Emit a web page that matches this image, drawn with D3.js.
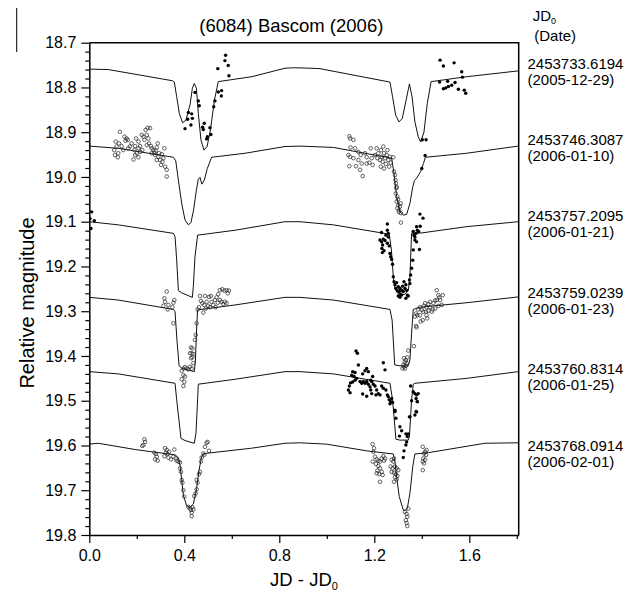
<!DOCTYPE html>
<html><head><meta charset="utf-8">
<script src="https://cdn.jsdelivr.net/npm/d3@7"></script>
<style>body{margin:0;background:#fff}svg{display:block}text{font-family:"Liberation Sans",Arial,sans-serif;fill:#000}</style>
</head><body>
<script>
// ---- data ----
const titleText = "(6084) Bascom (2006)";
const jd0Labels = ["2453733.6194","2453746.3087","2453757.2095","2453759.0239","2453760.8314","2453768.0914"];
const dateLabels = ["(2005-12-29)","(2006-01-10)","(2006-01-21)","(2006-01-23)","(2006-01-25)","(2006-02-01)"];
const xMajorTicks = [0.0,0.4,0.8,1.2,1.6];
const xMinorTicks = [0.2,0.6,1.0,1.4,1.8];
const yMajorTicks = [18.7,18.8,18.9,19.0,19.1,19.2,19.3,19.4,19.5,19.6,19.7,19.8];

const model1 = [[0,18.759],[0.08,18.76],[0.35,18.785],[0.358,18.788],[0.368,18.821],[0.379,18.858],[0.393,18.879],[0.407,18.873],[0.424,18.839],[0.434,18.802],[0.442,18.791],[0.451,18.802],[0.459,18.858],[0.47,18.917],[0.483,18.94],[0.496,18.932],[0.51,18.895],[0.527,18.828],[0.543,18.787],[0.684,18.776],[0.824,18.757],[0.86,18.756],[0.93,18.757],[0.971,18.758],[1.266,18.788],[1.277,18.821],[1.29,18.862],[1.304,18.877],[1.318,18.869],[1.334,18.828],[1.348,18.792],[1.359,18.821],[1.371,18.877],[1.385,18.91],[1.395,18.922],[1.409,18.9],[1.423,18.836],[1.439,18.787],[1.589,18.776],[1.806,18.763]];
const model2 = [[0,18.931],[0.122,18.936],[0.354,18.956],[0.364,18.964],[0.375,19.007],[0.389,19.059],[0.403,19.096],[0.417,19.107],[0.428,19.102],[0.439,19.074],[0.451,19.029],[0.459,19.005],[0.466,19.001],[0.474,19.016],[0.484,19.007],[0.497,18.981],[0.515,18.956],[0.656,18.947],[0.824,18.932],[0.887,18.931],[1.028,18.934],[1.273,18.958],[1.283,18.992],[1.294,19.044],[1.308,19.078],[1.322,19.085],[1.336,19.084],[1.35,19.059],[1.362,19.022],[1.369,19.008],[1.378,19.003],[1.395,18.988],[1.407,18.97],[1.415,18.956],[1.589,18.947],[1.806,18.931]];
const model3 = [[0,19.1],[0.122,19.107],[0.354,19.126],[0.361,19.133],[0.368,19.186],[0.375,19.254],[0.389,19.259],[0.434,19.269],[0.438,19.245],[0.445,19.178],[0.456,19.13],[0.614,19.119],[0.824,19.1],[0.887,19.1],[1.028,19.107],[1.231,19.125],[1.263,19.128],[1.272,19.163],[1.28,19.223],[1.287,19.249],[1.297,19.259],[1.311,19.264],[1.329,19.262],[1.343,19.254],[1.35,19.223],[1.357,19.126],[1.4,19.125],[1.589,19.111],[1.806,19.1]];
const model4 = [[0,19.269],[0.122,19.275],[0.354,19.296],[0.361,19.301],[0.369,19.364],[0.378,19.422],[0.392,19.428],[0.442,19.435],[0.447,19.409],[0.451,19.349],[0.456,19.297],[0.614,19.286],[0.824,19.269],[0.887,19.269],[1.028,19.275],[1.266,19.296],[1.275,19.32],[1.286,19.42],[1.308,19.422],[1.343,19.422],[1.35,19.409],[1.357,19.349],[1.364,19.296],[1.392,19.291],[1.589,19.281],[1.806,19.268]];
const model5 = [[0,19.435],[0.122,19.44],[0.361,19.461],[0.368,19.498],[0.386,19.584],[0.403,19.589],[0.442,19.595],[0.449,19.573],[0.456,19.498],[0.459,19.463],[0.614,19.452],[0.824,19.435],[0.887,19.435],[1.028,19.44],[1.266,19.461],[1.277,19.498],[1.291,19.586],[1.308,19.588],[1.343,19.588],[1.348,19.58],[1.357,19.498],[1.364,19.463],[1.371,19.461],[1.589,19.45],[1.806,19.435]];
const model6 = [[0,19.597],[0.038,19.595],[0.193,19.609],[0.361,19.621],[0.375,19.627],[0.382,19.644],[0.389,19.677],[0.396,19.711],[0.41,19.735],[0.424,19.738],[0.438,19.731],[0.452,19.696],[0.462,19.655],[0.473,19.625],[0.484,19.618],[0.684,19.606],[0.824,19.595],[0.887,19.594],[0.999,19.597],[1.168,19.612],[1.28,19.619],[1.287,19.636],[1.294,19.67],[1.305,19.714],[1.322,19.744],[1.329,19.746],[1.339,19.74],[1.35,19.707],[1.362,19.647],[1.371,19.619],[1.428,19.616],[1.666,19.595],[1.806,19.594]];

const obs1Filled = [[0.574,18.728],[0.571,18.74],[0.585,18.751],[0.541,18.758],[0.588,18.774],[0.543,18.81],[0.557,18.807],[0.556,18.819],[0.529,18.83],[0.524,18.843],[0.512,18.905],[0.508,18.89],[0.497,18.91],[0.494,18.915],[0.484,18.88],[0.477,18.889],[0.48,18.894],[0.463,18.841],[0.459,18.83],[0.445,18.811],[0.434,18.869],[0.431,18.859],[0.417,18.856],[0.414,18.871],[0.428,18.884],[0.403,18.892],
 [1.477,18.739],[1.491,18.752],[1.536,18.745],[1.509,18.786],[1.475,18.788],[1.568,18.765],[1.571,18.777],[1.54,18.789],[1.526,18.795],[1.512,18.798],[1.501,18.801],[1.491,18.803],[1.554,18.804],[1.579,18.806],[1.585,18.813],[1.402,18.917],[1.418,18.917]];
const obs2Open = [[0.129,18.899],[0.111,18.921],[0.115,18.932],[0.105,18.94],[0.108,18.951],[0.12,18.956],[0.122,18.947],[0.136,18.931],[0.148,18.91],[0.157,18.914],[0.153,18.919],[0.162,18.917],[0.171,18.932],[0.178,18.925],[0.19,18.94],[0.193,18.951],[0.2,18.947],[0.207,18.956],[0.186,18.961],[0.197,18.914],[0.207,18.921],[0.214,18.931],[0.221,18.906],[0.228,18.91],[0.232,18.917],[0.237,18.895],[0.242,18.906],[0.249,18.914],[0.246,18.89],[0.256,18.891],[0.251,18.925],[0.26,18.931],[0.263,18.936],[0.27,18.94],[0.274,18.946],[0.277,18.951],[0.284,18.934],[0.291,18.955],[0.298,18.962],[0.305,18.949],[0.312,18.958],[0.302,18.973],[0.316,18.936],[0.319,18.977],[0.326,18.984],[0.326,18.999],[0.288,18.925],[0.242,18.929],[0.223,18.94],[0.214,18.944],[0.164,18.936],[0.143,18.94],[0.125,18.925],[0.193,18.931],[0.207,18.936],[0.263,18.947],[0.28,18.941],[0.294,18.947],[0.308,18.966],[0.284,18.962],
 [1.095,18.909],[1.098,18.914],[1.112,18.917],[1.1,18.934],[1.119,18.936],[1.091,18.951],[1.098,18.955],[1.112,18.958],[1.095,18.976],[1.123,18.976],[1.14,18.984],[1.151,18.998],[1.133,18.944],[1.143,18.951],[1.161,18.947],[1.168,18.956],[1.185,18.936],[1.189,18.958],[1.193,18.973],[1.203,18.951],[1.21,18.936],[1.213,18.958],[1.217,18.947],[1.224,18.962],[1.228,18.94],[1.231,18.955],[1.235,18.966],[1.238,18.932],[1.241,18.947],[1.245,18.958],[1.249,18.971],[1.252,18.951],[1.255,18.94],[1.259,18.962],[1.263,18.977],[1.266,18.955],[1.269,18.968],[1.227,18.977],[1.241,18.981],[1.28,18.956],[1.283,18.988],[1.287,18.996],[1.291,19.014],[1.294,19.022],[1.29,19.037],[1.297,19.044],[1.294,19.055],[1.301,19.063],[1.297,19.07],[1.305,19.074],[1.308,19.066],[1.312,19.081],[1.289,19.007],[1.293,19.025],[1.3,19.05],[1.311,19.059],[1.303,19.078],[1.179,18.968],[1.147,18.97],[1.133,18.962],[1.168,18.97],[1.312,19.102]];
const obs2Filled = [[1.414,18.952],[1.4,18.981]];
const obs3Filled = [[0.01,19.078],[0.003,19.093],[0.021,19.098],[0.007,19.115],
 [1.255,19.105],[1.23,19.124],[1.224,19.141],[1.231,19.145],[1.238,19.139],[1.245,19.142],[1.249,19.13],[1.255,19.119],[1.259,19.126],[1.235,19.152],[1.232,19.16],[1.241,19.165],[1.234,19.169],[1.255,19.148],[1.259,19.134],[1.263,19.154],[1.266,19.171],[1.269,19.178],[1.273,19.184],[1.277,19.195],[1.28,19.223],[1.283,19.234],[1.287,19.241],[1.294,19.236],[1.291,19.249],[1.297,19.254],[1.301,19.245],[1.305,19.256],[1.308,19.249],[1.311,19.262],[1.315,19.253],[1.319,19.244],[1.322,19.256],[1.325,19.234],[1.329,19.249],[1.333,19.241],[1.336,19.253],[1.339,19.264],[1.333,19.271],[1.343,19.266],[1.348,19.23],[1.35,19.238],[1.353,19.219],[1.357,19.204],[1.362,19.186],[1.364,19.163],[1.371,19.141],[1.367,19.13],[1.376,19.126],[1.378,19.111],[1.381,19.119],[1.387,19.122],[1.393,19.11],[1.364,19.122],[1.371,19.134],[1.39,19.162],[1.378,19.145],[1.301,19.266],[1.308,19.269],[1.315,19.264],[1.392,19.083],[1.405,19.092]];
const obs4Open = [[0.326,19.256],[0.316,19.271],[0.319,19.279],[0.358,19.275],[0.354,19.281],[0.333,19.286],[0.35,19.291],[0.33,19.296],[0.312,19.288],[0.354,19.327],[0.466,19.266],[0.487,19.266],[0.504,19.268],[0.512,19.266],[0.47,19.277],[0.476,19.282],[0.484,19.286],[0.494,19.279],[0.501,19.288],[0.515,19.279],[0.522,19.286],[0.529,19.275],[0.536,19.269],[0.543,19.262],[0.55,19.253],[0.56,19.251],[0.569,19.254],[0.578,19.253],[0.583,19.26],[0.588,19.254],[0.557,19.279],[0.564,19.284],[0.571,19.279],[0.578,19.282],[0.55,19.275],[0.541,19.281],[0.532,19.291],[0.508,19.291],[0.49,19.294],[0.48,19.303],[0.462,19.291],[0.456,19.296],[0.452,19.327],[0.448,19.353],[0.445,19.364],[0.434,19.383],[0.428,19.381],[0.431,19.394],[0.424,19.394],[0.438,19.396],[0.428,19.405],[0.434,19.403],[0.396,19.428],[0.403,19.425],[0.41,19.428],[0.417,19.43],[0.424,19.424],[0.431,19.428],[0.389,19.433],[0.396,19.443],[0.403,19.446],[0.389,19.452],[0.4,19.458],[0.396,19.467],[0.438,19.416],
 [1.463,19.253],[1.47,19.264],[1.488,19.264],[1.474,19.269],[1.463,19.275],[1.477,19.275],[1.456,19.276],[1.449,19.282],[1.435,19.279],[1.428,19.284],[1.414,19.282],[1.409,19.288],[1.42,19.291],[1.435,19.291],[1.446,19.296],[1.456,19.294],[1.47,19.288],[1.484,19.286],[1.392,19.291],[1.385,19.296],[1.4,19.297],[1.406,19.301],[1.418,19.301],[1.428,19.299],[1.442,19.301],[1.376,19.305],[1.381,19.309],[1.371,19.312],[1.392,19.309],[1.42,19.309],[1.404,19.32],[1.423,19.316],[1.395,19.323],[1.376,19.333],[1.378,19.336],[1.367,19.378],[1.343,19.388],[1.339,19.403],[1.333,19.409],[1.325,19.405],[1.329,19.413],[1.336,19.416],[1.322,19.42],[1.319,19.428],[1.329,19.428],[1.325,19.424],[1.333,19.422]];
const obs5Filled = [[1.123,19.389],[1.129,19.394],[1.133,19.42],[1.238,19.415],[1.245,19.431],[1.168,19.428],[1.175,19.435],[1.161,19.433],[1.151,19.44],[1.119,19.437],[1.109,19.435],[1.105,19.443],[1.115,19.446],[1.126,19.45],[1.119,19.454],[1.109,19.458],[1.1,19.46],[1.095,19.467],[1.091,19.476],[1.098,19.482],[1.14,19.457],[1.147,19.461],[1.154,19.457],[1.161,19.461],[1.168,19.457],[1.175,19.463],[1.185,19.454],[1.193,19.446],[1.189,19.457],[1.196,19.463],[1.203,19.467],[1.182,19.469],[1.185,19.476],[1.21,19.476],[1.217,19.484],[1.224,19.487],[1.207,19.487],[1.151,19.485],[1.168,19.49],[1.189,19.484],[1.231,19.467],[1.238,19.472],[1.249,19.476],[1.255,19.487],[1.259,19.491],[1.263,19.498],[1.269,19.502],[1.273,19.495],[1.277,19.504],[1.266,19.507],[1.287,19.521],[1.291,19.539],[1.353,19.467],[1.364,19.48],[1.371,19.484],[1.378,19.487],[1.376,19.495],[1.385,19.484],[1.381,19.502],[1.378,19.525],[1.371,19.532],[1.35,19.536],
 [1.287,19.524],[1.308,19.558],[1.315,19.567],[1.306,19.579],[1.333,19.574],[1.339,19.58],[1.343,19.574],[1.336,19.592],[1.333,19.599],[1.325,19.612],[1.322,19.627],[1.348,19.536],[1.357,19.5],[1.376,19.524],[1.381,19.502]];
const obs6Open = [[0.232,19.586],[0.235,19.592],[0.228,19.599],[0.223,19.601],[0.274,19.616],[0.28,19.619],[0.284,19.625],[0.277,19.631],[0.288,19.634],[0.319,19.606],[0.326,19.61],[0.322,19.616],[0.33,19.619],[0.336,19.614],[0.316,19.624],[0.333,19.627],[0.344,19.631],[0.358,19.609],[0.354,19.625],[0.364,19.629],[0.368,19.634],[0.375,19.636],[0.382,19.638],[0.382,19.651],[0.386,19.659],[0.389,19.677],[0.392,19.683],[0.396,19.7],[0.4,19.714],[0.417,19.737],[0.424,19.741],[0.428,19.744],[0.431,19.75],[0.431,19.758],[0.434,19.738],[0.438,19.743],[0.442,19.713],[0.448,19.707],[0.452,19.698],[0.456,19.683],[0.452,19.677],[0.462,19.664],[0.466,19.659],[0.47,19.636],[0.473,19.627],[0.48,19.618],[0.487,19.603],[0.494,19.594],[0.498,19.592],[0.504,19.612],[0.484,19.621],
 [1.193,19.597],[1.199,19.606],[1.196,19.614],[1.203,19.625],[1.21,19.631],[1.217,19.634],[1.193,19.636],[1.207,19.641],[1.224,19.636],[1.231,19.629],[1.238,19.624],[1.245,19.629],[1.241,19.634],[1.217,19.646],[1.224,19.651],[1.213,19.656],[1.231,19.659],[1.221,19.664],[1.21,19.662],[1.235,19.666],[1.224,19.681],[1.273,19.632],[1.28,19.636],[1.283,19.629],[1.269,19.647],[1.277,19.651],[1.287,19.647],[1.294,19.651],[1.301,19.655],[1.273,19.659],[1.283,19.661],[1.291,19.664],[1.297,19.668],[1.287,19.671],[1.294,19.676],[1.283,19.681],[1.329,19.748],[1.336,19.753],[1.339,19.759],[1.333,19.767],[1.336,19.773],[1.339,19.78],[1.343,19.741],[1.404,19.603],[1.409,19.618],[1.414,19.614],[1.418,19.621],[1.406,19.629],[1.414,19.632],[1.404,19.636],[1.409,19.64],[1.404,19.655],[1.42,19.61]];

// ---- drawing ----
const W = 644, H = 594;
const L = 89.3, R = 518.7, T = 42.7, B = 535;
const svg = d3.select("body").append("svg").attr("width", W).attr("height", H);
const x = d3.scaleLinear().domain([0, 1.808]).range([L, R]);
const y = d3.scaleLinear().domain([18.7, 19.8]).range([T, B]);

svg.append("clipPath").attr("id","clip").append("rect")
  .attr("x", L).attr("y", T).attr("width", R - L).attr("height", B - T);

const plot = svg.append("g").attr("clip-path","url(#clip)");
const line = d3.line().x(d => x(d[0])).y(d => y(d[1]));
[model1, model2, model3, model4, model5, model6].forEach(m => {
  plot.append("path").datum(m).attr("d", line)
    .attr("fill","none").attr("stroke","#111").attr("stroke-width",1);
});

function filled(arr){
  plot.append("g").selectAll("circle").data(arr).join("circle")
    .attr("cx", d => x(d[0])).attr("cy", d => y(d[1])).attr("r", 1.7).attr("fill","#000");
}
function open(arr){
  plot.append("g").selectAll("circle").data(arr).join("circle")
    .attr("cx", d => x(d[0])).attr("cy", d => y(d[1])).attr("r", 1.8)
    .attr("fill","none").attr("stroke","#222").attr("stroke-width",0.7);
}
open(obs2Open); open(obs4Open); open(obs6Open);
filled(obs1Filled); filled(obs2Filled); filled(obs3Filled); filled(obs5Filled);

// axes
const fontAx = "16px";
svg.append("g").attr("transform",`translate(${L},0)`)
  .call(d3.axisLeft(y).tickValues(yMajorTicks).tickFormat(d3.format(".1f")).tickSize(8).tickPadding(5).tickSizeOuter(0));
const yMinor = d3.range(18.72, 19.8, 0.02).filter(v => Math.abs(Math.round(v*10)-v*10) > 0.05);
svg.append("g").attr("transform",`translate(${L},0)`)
  .call(d3.axisLeft(y).tickValues(yMinor).tickFormat("").tickSize(4).tickSizeOuter(0))
  .call(g => g.select(".domain").remove());
svg.append("g").attr("transform",`translate(0,${B})`)
  .call(d3.axisBottom(x).tickValues(xMajorTicks).tickFormat(d3.format(".1f")).tickSize(8).tickPadding(7).tickSizeOuter(0));
svg.append("g").attr("transform",`translate(0,${B})`)
  .call(d3.axisBottom(x).tickValues(xMinorTicks).tickFormat("").tickSize(4).tickSizeOuter(0))
  .call(g => g.select(".domain").remove());
svg.selectAll(".tick text").style("font-size", fontAx).style("font-family","'Liberation Sans',Arial,sans-serif");
svg.selectAll(".domain").attr("stroke-width",1.5);
svg.selectAll(".tick line").attr("stroke-width",1.2);

// frame top/right
svg.append("path").attr("d",`M${L},${T}H${R}V${B}`).attr("fill","none").attr("stroke","#000").attr("stroke-width",1.5);

// small vertical mark at top left
svg.append("line").attr("x1",16.7).attr("x2",16.7).attr("y1",8).attr("y2",52).attr("stroke","#000").attr("stroke-width",1);

// titles
svg.append("text").attr("x",291.3).attr("y",31.5).attr("text-anchor","middle")
  .style("font-size","18.5px").text(titleText);
const xt = svg.append("text").attr("x",(L+R)/2).attr("y",586).attr("text-anchor","middle").style("font-size","18.5px");
xt.append("tspan").text("JD - JD");
xt.append("tspan").attr("dy",4).style("font-size","11px").text("0");
svg.append("text").attr("transform","translate(34,303) rotate(-90)").attr("text-anchor","middle")
  .style("font-size","20px").text("Relative magnitude");

// right labels
const jh = svg.append("text").attr("x",532.7).attr("y",21).style("font-size","15px");
jh.append("tspan").text("JD");
jh.append("tspan").attr("dy",3).style("font-size","9px").text("0");
svg.append("text").attr("x",534.3).attr("y",41).style("font-size","15px").text("(Date)");
jd0Labels.forEach((lab,i) => {
  const cy = 63 + i*76.4;
  svg.append("text").attr("x",527.5).attr("y",cy+5.5).style("font-size","15px").text(lab);
  svg.append("text").attr("x",527.5).attr("y",cy+16.5+5).style("font-size","15px").text(dateLabels[i]);
});
</script>
</body></html>
